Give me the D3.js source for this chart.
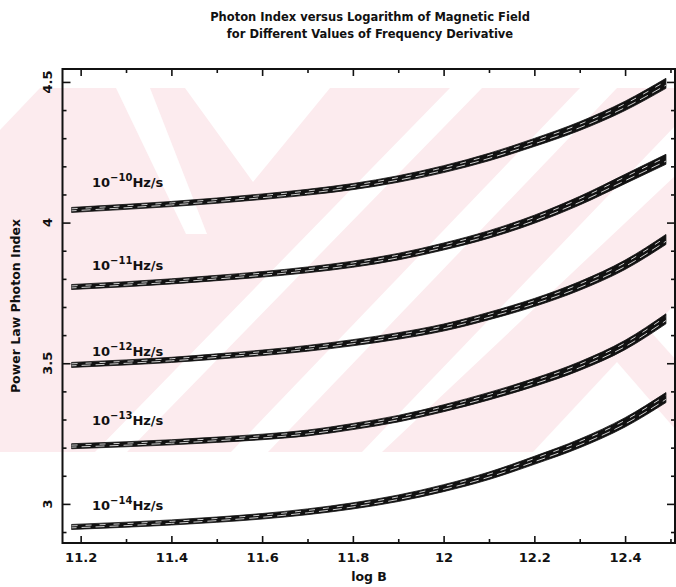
<!DOCTYPE html>
<html>
<head>
<meta charset="utf-8">
<script src="https://cdn.jsdelivr.net/npm/d3@7"></script>
<style>
  body { margin: 0; background: #fff; }
  svg text { font-family: "DejaVu Sans", sans-serif; font-weight: bold; fill: #111; }
</style>
</head>
<body>
<div id="chart"></div>
<script>
const width = 676;
const height = 587;

// log B sample points
const logB = [11.18, 11.3, 11.4, 11.5, 11.6, 11.7, 11.8, 11.9, 12.0, 12.1, 12.2, 12.3, 12.4, 12.49];

// photon index, one array per frequency derivative
const nuDot10 = [4.045, 4.056, 4.066, 4.078, 4.092, 4.108, 4.128, 4.155, 4.19, 4.233, 4.285, 4.343, 4.415, 4.495];
const nuDot11 = [3.771, 3.781, 3.791, 3.803, 3.816, 3.832, 3.852, 3.879, 3.915, 3.958, 4.012, 4.078, 4.155, 4.225];
const nuDot12 = [3.494, 3.503, 3.512, 3.524, 3.537, 3.553, 3.573, 3.597, 3.627, 3.668, 3.716, 3.775, 3.85, 3.94];
const nuDot13 = [3.205, 3.212, 3.219, 3.228, 3.238, 3.252, 3.275, 3.303, 3.34, 3.383, 3.432, 3.49, 3.565, 3.658];
const nuDot14 = [2.918, 2.926, 2.934, 2.944, 2.956, 2.972, 2.993, 3.02, 3.056, 3.1, 3.155, 3.215, 3.29, 3.378];

const seriesValues = [nuDot10, nuDot11, nuDot12, nuDot13, nuDot14];
const exponents = ["\u221210", "\u221211", "\u221212", "\u221213", "\u221214"];
// label anchor (photon index) for each curve label
const labelAt = [4.127, 3.832, 3.526, 3.281, 2.978];
const labelLogB = 11.225;

const xTicks = [11.2, 11.4, 11.6, 11.8, 12, 12.2, 12.4];
const xMinor = [11.3, 11.5, 11.7, 11.9, 12.1, 12.3, 12.5];
const yTicks = [3, 3.5, 4, 4.5];
const yMinor = [2.9, 3.1, 3.2, 3.3, 3.4, 3.6, 3.7, 3.8, 3.9, 4.1, 4.2, 4.3, 4.4];

const plot = { left: 62.5, right: 675, top: 69, bottom: 543 };

const svg = d3.select("#chart")
  .append("svg")
  .attr("width", width)
  .attr("height", height);

// faint pink watermark behind the plot (scanned page decoration)
const pink = "#fcebee";
const wm = svg.append("g");
wm.append("rect")
  .attr("x", 0).attr("y", 88)
  .attr("width", width).attr("height", 364)
  .attr("fill", pink);
const stripes = [
  [[450, 88], [482, 88], [127, 452], [95, 452]],
  [[580, 88], [617, 88], [268, 452], [231, 452]],
  [[676, 125], [676, 175], [382, 452], [362, 452]],
  [[116, 88], [150, 88], [207, 234], [186, 234]],
  [[185, 88], [330, 88], [253, 182]],
  [[533, 452], [617, 362], [676, 430], [676, 452]],
  [[676, 303], [650, 331], [676, 360]],
  [[0, 88], [40, 88], [0, 130]]
];
wm.selectAll("polygon")
  .data(stripes)
  .enter()
  .append("polygon")
  .attr("points", d => d.map(p => p.join(",")).join(" "))
  .attr("fill", "#fff");

const x = d3.scaleLinear().domain([11.16, 12.51]).range([plot.left, plot.right]);
const y = d3.scaleLinear().domain([2.861, 4.546]).range([plot.bottom, plot.top]);

// title
const title = svg.append("text")
  .attr("text-anchor", "middle")
  .style("font-size", "11.5px");
title.append("tspan").attr("x", 370).attr("y", 21).text("Photon Index versus Logarithm of Magnetic Field");
title.append("tspan").attr("x", 370).attr("y", 38).text("for Different Values of Frequency Derivative");

// axes: ticks point inward
function styleAxis(g) {
  g.select(".domain").remove();
  g.selectAll(".tick line").attr("stroke", "#111").attr("stroke-width", 1.6);
}

svg.append("g")
  .attr("transform", `translate(0,${plot.bottom})`)
  .call(d3.axisBottom(x).tickValues(xTicks).tickSize(-7).tickPadding(10).tickFormat(d3.format("")))
  .call(styleAxis)
  .call(g => g.selectAll("text").style("font-size", "13px").attr("fill", "#111").style("font-family", "DejaVu Sans"));

svg.append("g")
  .attr("transform", `translate(0,${plot.bottom})`)
  .call(d3.axisBottom(x).tickValues(xMinor).tickSize(-4).tickFormat(""))
  .call(styleAxis);

svg.append("g")
  .attr("transform", `translate(0,${plot.top})`)
  .call(d3.axisTop(x).tickValues(xTicks).tickSize(-7).tickFormat(""))
  .call(styleAxis);

svg.append("g")
  .attr("transform", `translate(0,${plot.top})`)
  .call(d3.axisTop(x).tickValues(xMinor).tickSize(-4).tickFormat(""))
  .call(styleAxis);

svg.append("g")
  .attr("transform", `translate(${plot.left},0)`)
  .call(d3.axisLeft(y).tickValues(yTicks).tickSize(-8).tickFormat(""))
  .call(styleAxis);

svg.append("g")
  .attr("transform", `translate(${plot.left},0)`)
  .call(d3.axisLeft(y).tickValues(yMinor).tickSize(-4).tickFormat(""))
  .call(styleAxis);

svg.append("g")
  .attr("transform", `translate(${plot.right},0)`)
  .call(d3.axisRight(y).tickValues(yTicks).tickSize(-8).tickFormat(""))
  .call(styleAxis);

svg.append("g")
  .attr("transform", `translate(${plot.right},0)`)
  .call(d3.axisRight(y).tickValues(yMinor).tickSize(-4).tickFormat(""))
  .call(styleAxis);

// rotated y tick labels
svg.append("g")
  .selectAll("text")
  .data(yTicks)
  .enter()
  .append("text")
  .attr("transform", d => `translate(52,${y(d)}) rotate(-90)`)
  .attr("text-anchor", "middle")
  .style("font-size", "13px")
  .text(d => d);

// frame
svg.append("rect")
  .attr("x", plot.left).attr("y", plot.top)
  .attr("width", plot.right - plot.left)
  .attr("height", plot.bottom - plot.top)
  .attr("fill", "none")
  .attr("stroke", "#111")
  .attr("stroke-width", 2);

// axis titles
svg.append("text")
  .attr("x", 369).attr("y", 581)
  .attr("text-anchor", "middle")
  .style("font-size", "12.5px")
  .text("log B");

svg.append("text")
  .attr("transform", `translate(20,${(plot.top + plot.bottom) / 2}) rotate(-90)`)
  .attr("text-anchor", "middle")
  .style("font-size", "12.5px")
  .text("Power Law Photon Index");

// curves: thick hatched bands, a bit wider towards high field
const x0 = logB[0], x1 = logB[logB.length - 1];
const thick = i => {
  const f = (logB[i] - x0) / (x1 - x0);
  return 5 + 5 * f * f;
};

const band = d3.area()
  .x((d, i) => x(logB[i]))
  .y0((d, i) => y(d) + thick(i) / 2)
  .y1((d, i) => y(d) - thick(i) / 2)
  .curve(d3.curveMonotoneX);

const offsetLine = k => d3.line()
  .x((d, i) => x(logB[i]))
  .y((d, i) => y(d) + k * thick(i))
  .curve(d3.curveMonotoneX);

const curves = svg.append("g");
seriesValues.forEach(vals => {
  curves.append("path")
    .attr("d", band(vals))
    .attr("fill", "#111")
    .attr("stroke", "#111")
    .attr("stroke-width", 0.8);
  [-0.22, 0.18].forEach((k, j) => {
    curves.append("path")
      .attr("d", offsetLine(k)(vals))
      .attr("fill", "none")
      .attr("stroke", "#fff")
      .attr("stroke-width", 0.8)
      .attr("stroke-dasharray", j ? "9 5" : "6 8")
      .attr("stroke-dashoffset", j * 4);
  });
});

// curve labels: 10^exp Hz/s
const labels = svg.append("g");
labels.selectAll("text")
  .data(exponents)
  .enter()
  .append("text")
  .attr("x", x(labelLogB))
  .attr("y", (d, i) => y(labelAt[i]))
  .style("font-size", "13px")
  .each(function (d) {
    const t = d3.select(this);
    t.append("tspan").text("10");
    t.append("tspan").attr("dy", -6).style("font-size", "10px").text(d);
    t.append("tspan").attr("dy", 6).text("Hz/s");
  });
</script>
</body>
</html>
